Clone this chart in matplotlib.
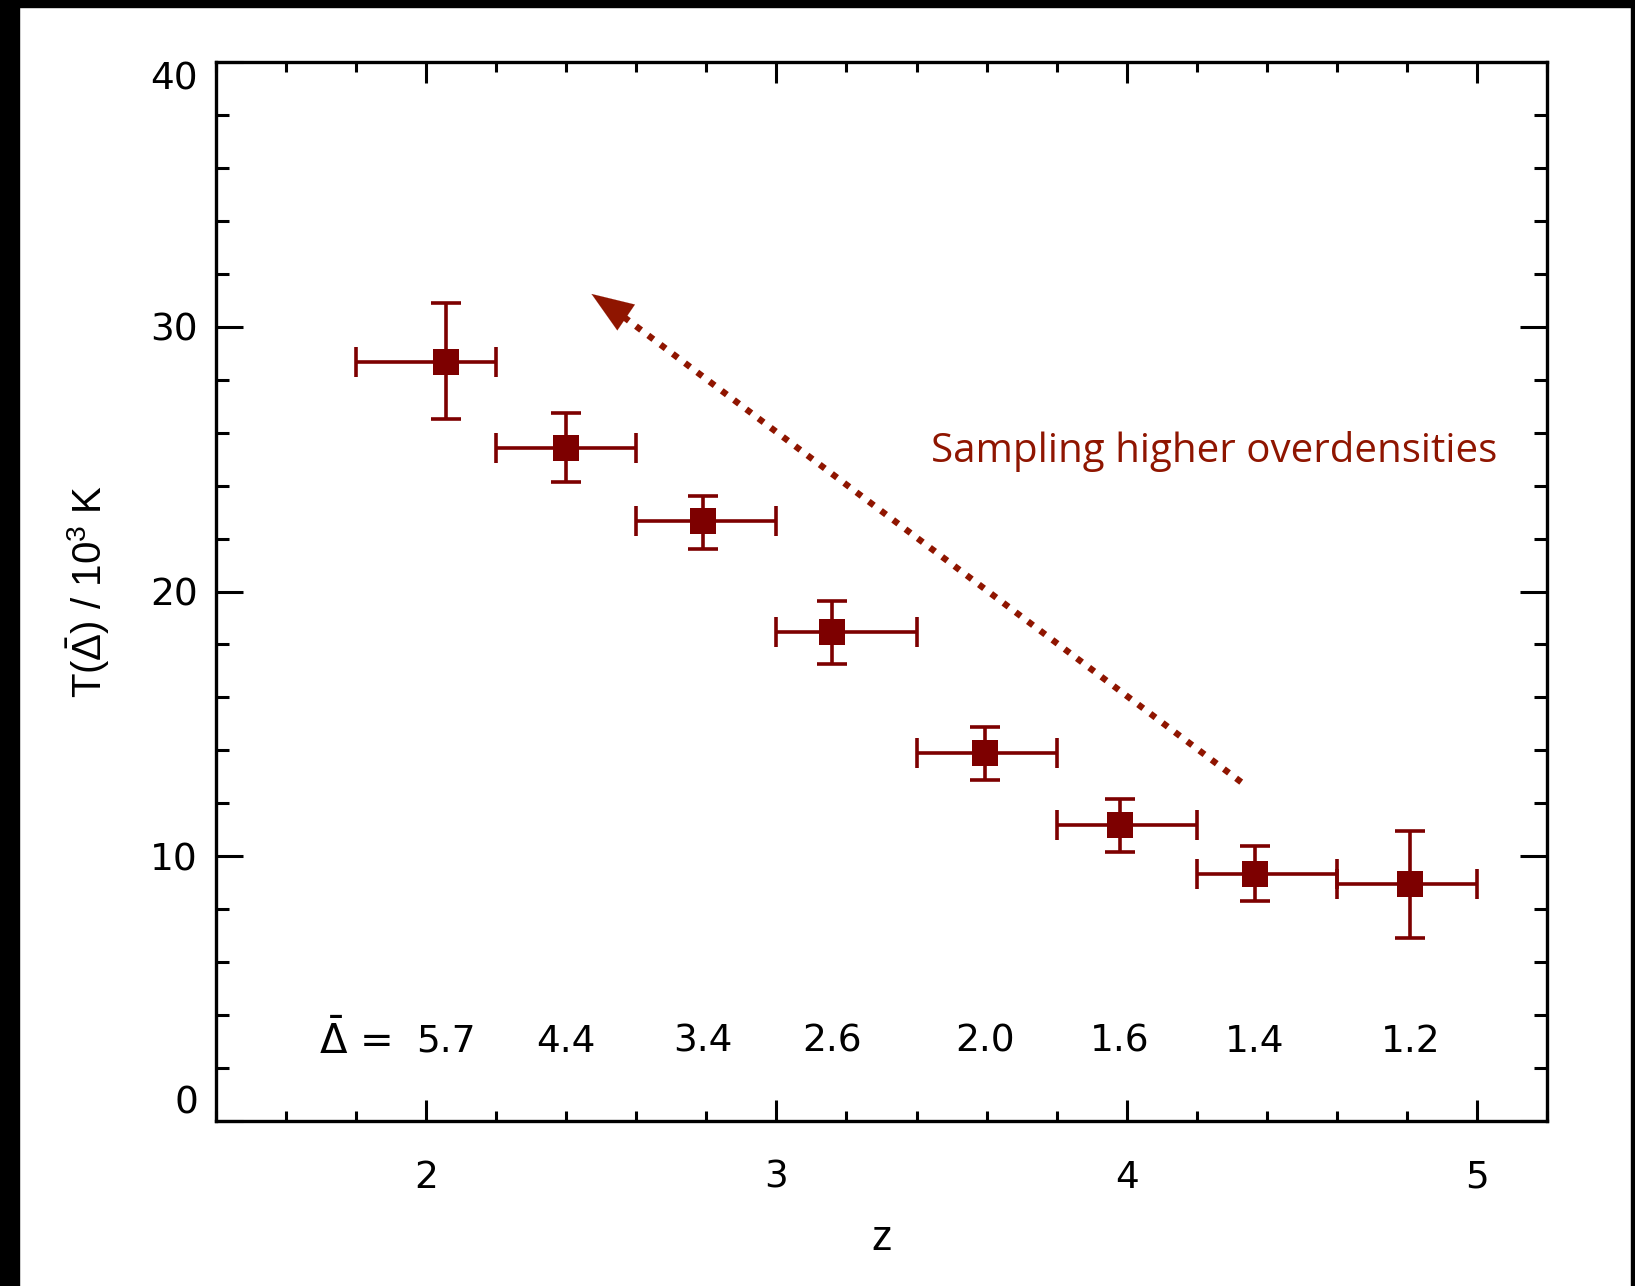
import numpy as np
import matplotlib
matplotlib.use("Agg")
import matplotlib.pyplot as plt
from matplotlib.patches import Rectangle
from matplotlib.ticker import MultipleLocator

# data
z = [2.057, 2.40, 2.79, 3.16, 3.595, 3.98, 4.365, 4.81]
z_lo = [1.8, 2.2, 2.6, 3.0, 3.4, 3.8, 4.2, 4.6]
z_hi = [2.2, 2.6, 3.0, 3.4, 3.8, 4.2, 4.6, 5.0]
T = [28.65, 25.42, 22.66, 18.48, 13.91, 11.19, 9.34, 8.95]
T_hi = [30.9, 26.76, 23.6, 19.66, 14.9, 12.18, 10.4, 10.95]
T_lo = [26.5, 24.12, 21.6, 17.26, 12.89, 10.17, 8.3, 6.92]
delta_labels = ["5.7", "4.4", "3.4", "2.6", "2.0", "1.6", "1.4", "1.2"]
delta_y = 3.0

arrow_start = (4.327, 12.8)
arrow_end = (2.472, 31.24)
note_text = "Sampling higher overdensities"
note_pos = (3.44, 25.3)

plt.rcParams['font.family'] = ['DejaVu Sans']
plt.rcParams['mathtext.fontset'] = 'custom'
plt.rcParams['mathtext.rm'] = 'Liberation Sans'
plt.rcParams['mathtext.it'] = 'Liberation Sans'
plt.rcParams['mathtext.bf'] = 'Liberation Sans'
label_font = ['Liberation Sans', 'DejaVu Sans']

red = "#7D0000"
arrow_red = "#8F1500"

fig = plt.figure(figsize=(16.35, 12.86), dpi=100)
ax = fig.add_axes([216/1635, 1 - 1121/1286, (1547-216)/1635, (1121-62)/1286])

# black frame bits at the edges of the picture
fig.patches.append(Rectangle((0, 0), 19/1635, 1, transform=fig.transFigure, color="black", zorder=0))
fig.patches.append(Rectangle((0, 1 - 7/1286), 1, 7/1286, transform=fig.transFigure, color="black", zorder=0))
fig.patches.append(Rectangle((1 - 4/1635, 0), 4/1635, 1, transform=fig.transFigure, color="black", zorder=0))

z_a = np.array(z)
T_a = np.array(T)
xerr = [z_a - np.array(z_lo), np.array(z_hi) - z_a]
yerr = [T_a - np.array(T_lo), np.array(T_hi) - T_a]
ax.errorbar(z, T, xerr=xerr, yerr=yerr, fmt='none', ecolor=red,
            elinewidth=2.6, capsize=10.5, capthick=2.6)
ax.plot(z, T, 's', color=red, markersize=19, markeredgewidth=0, zorder=5)

# dotted arrow
ax.plot([arrow_start[0], arrow_end[0] + 0.05], [arrow_start[1], arrow_end[1] - 0.45],
        color=arrow_red, lw=4.6, dashes=(1, 1.4), solid_capstyle='butt', dash_capstyle='butt')
ax.annotate("", xy=arrow_end, xytext=(arrow_end[0] + 0.1, arrow_end[1] - 0.9),
            arrowprops=dict(arrowstyle="-|>,head_length=1.2,head_width=0.45", color=arrow_red,
                            lw=0.1, mutation_scale=25, shrinkA=0, shrinkB=0))
ax.text(note_pos[0], note_pos[1], note_text, color=arrow_red, fontsize=29,
        family=['Open Sans', 'DejaVu Sans'], ha='left', va='center')

# overdensity labels
for zi, lab in zip(z, delta_labels):
    ax.text(zi, delta_y, lab, fontsize=27, ha='center', va='center')
ax.annotate(r"$\bar{\Delta}$ =", xy=(z[0], delta_y), xytext=(-40, 0),
            textcoords='offset points', fontsize=29, ha='right', va='center',
            math_fontfamily='dejavusans')

ax.set_xlim(1.4, 5.2)
ax.set_ylim(0, 40)
ax.xaxis.set_major_locator(MultipleLocator(1))
ax.xaxis.set_minor_locator(MultipleLocator(0.2))
ax.yaxis.set_major_locator(MultipleLocator(10))
ax.yaxis.set_minor_locator(MultipleLocator(2))

ax.tick_params(axis='x', which='major', direction='in', length=15, width=2.2,
               top=True, bottom=True, labelsize=27, pad=28)
ax.tick_params(axis='x', which='minor', direction='in', length=7.5, width=2.2, top=True, bottom=True)
ax.tick_params(axis='y', which='major', direction='in', length=19.5, width=2.2,
               left=True, right=True, labelsize=27, pad=13)
ax.tick_params(axis='y', which='minor', direction='in', length=9.5, width=2.2, left=True, right=True)
for s in ax.spines.values():
    s.set_linewidth(2.4)

ax.set_yticks([0, 10, 20, 30, 40])
ax.set_yticklabels(["0", "10", "20", "30", "40"])
ylabs = ax.get_yticklabels()
ylabs[0].set_va('bottom')
ylabs[-1].set_va('top')

ax.set_xlabel("z", fontsize=30, family=label_font)
ax.xaxis.set_label_coords(0.5, (1121 - 1239) / 1059)
ax.xaxis.label.set_va('center')
ax.set_ylabel(r"T($\bar{\Delta}$) / 10$^3$ K", fontsize=29, family=label_font)
ax.yaxis.set_label_coords((88 - 216) / 1331, 0.5)
ax.yaxis.label.set_va('center')

fig.savefig("out.png", dpi=100)
